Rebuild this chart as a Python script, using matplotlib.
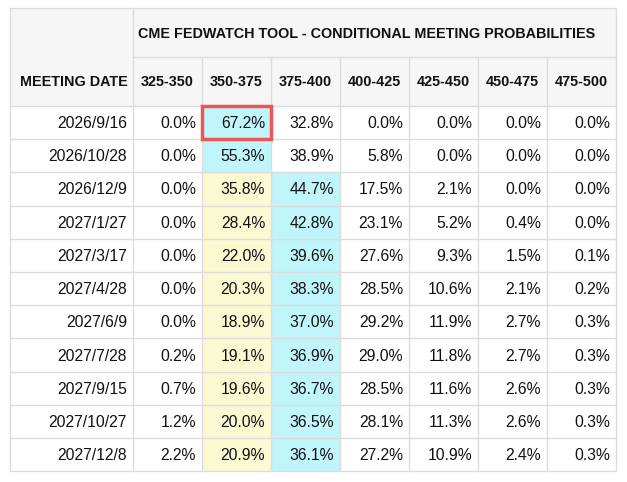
import matplotlib.pyplot as plt
from matplotlib.patches import Rectangle

title = "CME FEDWATCH TOOL - CONDITIONAL MEETING PROBABILITIES"
first_header = "MEETING DATE"
ranges = ["325-350", "350-375", "375-400", "400-425", "425-450", "450-475", "475-500"]
dates = ["2026/9/16", "2026/10/28", "2026/12/9", "2027/1/27", "2027/3/17", "2027/4/28",
         "2027/6/9", "2027/7/28", "2027/9/15", "2027/10/27", "2027/12/8"]
probs = [
    [0.0, 67.2, 32.8, 0.0, 0.0, 0.0, 0.0],
    [0.0, 55.3, 38.9, 5.8, 0.0, 0.0, 0.0],
    [0.0, 35.8, 44.7, 17.5, 2.1, 0.0, 0.0],
    [0.0, 28.4, 42.8, 23.1, 5.2, 0.4, 0.0],
    [0.0, 22.0, 39.6, 27.6, 9.3, 1.5, 0.1],
    [0.0, 20.3, 38.3, 28.5, 10.6, 2.1, 0.2],
    [0.0, 18.9, 37.0, 29.2, 11.9, 2.7, 0.3],
    [0.2, 19.1, 36.9, 29.0, 11.8, 2.7, 0.3],
    [0.7, 19.6, 36.7, 28.5, 11.6, 2.6, 0.3],
    [1.2, 20.0, 36.5, 28.1, 11.3, 2.6, 0.3],
    [2.2, 20.9, 36.1, 27.2, 10.9, 2.4, 0.3],
]
# current rate column shown in yellow from the third meeting onward
current_col = 1

BLUE = "#bff5fb"
YELLOW = "#fbf9d2"
HEAD = "#f6f6f6"
LINE = "#dcdcdc"
RED = "#f05555"
FONT = "Liberation Sans"

fig = plt.figure(figsize=(6.27, 4.82), dpi=100)
ax = fig.add_axes([0, 0, 1, 1])
ax.set_xlim(0, 627)
ax.set_ylim(482, 0)
ax.axis("off")

x0, c0w, cw = 10, 123, 69
y0, th, hh, rh = 8, 49, 49, 33.2
ncol = len(ranges)
right = x0 + c0w + cw * ncol
bottom = y0 + th + hh + rh * len(dates)

# header backgrounds
ax.add_patch(Rectangle((x0, y0), right - x0, th + hh, facecolor=HEAD, edgecolor="none"))

# cell backgrounds and values
for i, row in enumerate(probs):
    top = y0 + th + hh + i * rh
    best = row.index(max(row))
    for j, v in enumerate(row):
        fc = None
        if j == best:
            fc = BLUE
        elif j == current_col and i >= 2:
            fc = YELLOW
        if fc:
            ax.add_patch(Rectangle((x0 + c0w + j * cw, top), cw, rh, facecolor=fc, edgecolor="none"))
        ax.text(x0 + c0w + (j + 1) * cw - 6, top + rh / 2 + 1, f"{v:.1f}%",
                ha="right", va="center", fontsize=11.3, family=FONT, color="#111")
    ax.text(x0 + c0w - 6, top + rh / 2 + 1, dates[i], ha="right", va="center",
            fontsize=11.3, family=FONT, color="#111")

# grid lines
lw = 1
ax.plot([x0, right, right, x0, x0], [y0, y0, bottom, bottom, y0], color=LINE, lw=lw)
ax.plot([x0 + c0w, x0 + c0w], [y0, bottom], color=LINE, lw=lw)
ax.plot([x0 + c0w, right], [y0 + th, y0 + th], color=LINE, lw=lw)
for j in range(1, ncol):
    xx = x0 + c0w + j * cw
    ax.plot([xx, xx], [y0 + th, bottom], color=LINE, lw=lw)
for i in range(len(dates)):
    yy = y0 + th + hh + i * rh
    ax.plot([x0, right], [yy, yy], color=LINE, lw=lw)

# header texts
ax.text(x0 + c0w + 5, y0 + th / 2 + 1, title, ha="left", va="center", fontsize=10.4,
        fontweight="bold", family=FONT, color="#111")
ax.text(x0 + c0w - 5, y0 + th + hh / 2 + 1, first_header, ha="right", va="center",
        fontsize=10.4, fontweight="bold", family=FONT, color="#111")
for j, r in enumerate(ranges):
    ax.text(x0 + c0w + (j + 0.5) * cw, y0 + th + hh / 2 + 1, r, ha="center", va="center",
            fontsize=10.4, fontweight="bold", family=FONT, color="#111")

# red outline on the first meeting's most likely cell
r0 = probs[0]
b0 = r0.index(max(r0))
ax.add_patch(Rectangle((x0 + c0w + b0 * cw, y0 + th + hh), cw, rh, facecolor="none",
                       edgecolor=RED, lw=2.5, zorder=5))

fig.savefig("out.png", dpi=100)
